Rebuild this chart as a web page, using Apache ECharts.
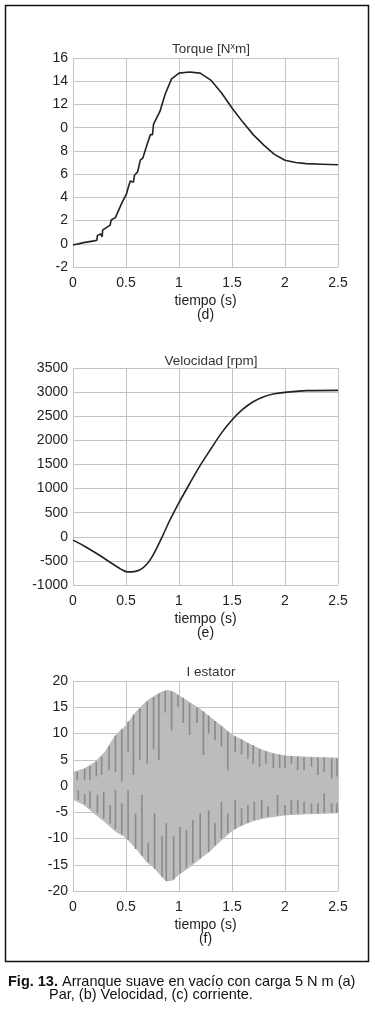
<!DOCTYPE html>
<html>
<head>
<meta charset="utf-8">
<script src="https://cdn.jsdelivr.net/npm/echarts@6/dist/echarts.min.js"></script>
<style>
  html, body { margin: 0; padding: 0; background: #fff; }
  #chart { width: 375px; height: 1014px; }
</style>
</head>
<body>
<div id="chart"></div>
<script>
// ---- datos ----
// (d) Torque
const torqueT = [0, 0.1, 0.2, 0.225, 0.23, 0.26, 0.275, 0.28, 0.3, 0.35, 0.36, 0.4, 0.46, 0.505, 0.52, 0.54, 0.57, 0.58, 0.61, 0.625, 0.635, 0.66, 0.7, 0.73, 0.75, 0.76, 0.82, 0.87, 0.93, 1.0, 1.1, 1.2, 1.3, 1.4, 1.5, 1.6, 1.7, 1.8, 1.9, 2.0, 2.1, 2.2, 2.35, 2.5]
const torqueV = [-0.1, 0.1, 0.25, 0.3, 0.7, 0.85, 0.6, 1.2, 1.3, 1.6, 2.05, 2.25, 3.5, 4.3, 4.8, 5.4, 5.3, 5.9, 6.2, 6.3, 7.2, 7.4, 8.6, 9.4, 9.4, 10.3, 11.4, 12.9, 14.2, 14.7, 14.8, 14.7, 14.1, 13.0, 11.7, 10.5, 9.4, 8.5, 7.7, 7.2, 7.0, 6.9, 6.85, 6.8]
const torqueTicks = ['-2', '0', '2', '4', '6', '8', '0', '12', '14', '16']

// (e) Velocidad
const speedT = [0, 0.1, 0.2, 0.3, 0.4, 0.45, 0.5, 0.55, 0.6, 0.65, 0.7, 0.75, 0.8, 0.85, 0.9, 0.95, 1.0, 1.1, 1.2, 1.3, 1.4, 1.5, 1.6, 1.7, 1.8, 1.9, 2.0, 2.2, 2.5]
const speedV = [-70, -185, -315, -455, -600, -670, -722, -728, -712, -660, -560, -400, -190, 40, 280, 500, 710, 1100, 1480, 1820, 2150, 2420, 2640, 2800, 2905, 2965, 2995, 3030, 3035]

// (f) I estator: envolvente y trazos oscuros [t, desde, hasta]
const currT = [0, 0.1, 0.2, 0.3, 0.4, 0.5, 0.6, 0.7, 0.76, 0.82, 0.88, 0.94, 1.0, 1.1, 1.2, 1.3, 1.4, 1.5, 1.6, 1.7, 1.8, 1.9, 2.0, 2.2, 2.5]
const currUpper = [2.6, 3.2, 4.4, 6.4, 9.6, 11.5, 14.2, 16.2, 17.0, 17.7, 18.2, 18.0, 17.2, 15.9, 14.6, 13.0, 11.4, 9.7, 8.7, 7.6, 6.7, 6.1, 5.7, 5.5, 5.3]
const currLower = [-2.5, -3.5, -5.2, -6.8, -8.6, -9.8, -12, -14.5, -15.4, -16.8, -18.1, -17.9, -16.8, -15.4, -13.8, -12.2, -10.3, -8.5, -7.4, -6.6, -6.1, -5.8, -5.5, -5.3, -5.1]
const upperStreaks = [
  [0.04, 2.7, 1.1], [0.11, 3.3, 1.1], [0.16, 3.8, 1.1], [0.22, 4.6, 1.8], [0.27, 5.6, 2.1],
  [0.34, 7.6, 3.0], [0.40, 9.6, 2.7], [0.46, 10.8, 0.8], [0.52, 12.3, 6.5], [0.57, 13.6, 2.1],
  [0.63, 14.8, 5.0], [0.70, 16.0, 4.3], [0.76, 16.9, 7.0], [0.81, 17.6, 4.9], [0.87, 18.1, 14.0],
  [0.93, 18.0, 10.6], [0.99, 17.3, 15.0], [1.04, 16.8, 12.0], [1.10, 15.8, 9.7], [1.17, 15.0, 12.0],
  [1.23, 14.2, 5.9], [1.28, 13.4, 10.0], [1.34, 12.4, 8.7], [1.40, 11.4, 7.5], [1.46, 10.4, 3.0],
  [1.53, 9.5, 6.5], [1.59, 8.9, 6.0], [1.65, 8.2, 5.2], [1.70, 7.8, 4.3], [1.76, 7.0, 3.7],
  [1.82, 6.6, 4.3], [1.89, 6.2, 3.4], [1.95, 6.0, 3.4], [2.00, 5.8, 3.4], [2.06, 5.7, 4.3],
  [2.12, 5.6, 3.0], [2.18, 5.5, 3.0], [2.25, 5.5, 3.7], [2.31, 5.4, 2.1], [2.37, 5.4, 2.7],
  [2.44, 5.3, 1.4], [2.49, 5.3, 1.8]
]
const lowerStreaks = [
  [0.05, -2.6, -0.8], [0.11, -3.4, -1.5], [0.16, -4.2, -1.0], [0.23, -5.2, -1.7], [0.29, -6.2, -1.1],
  [0.35, -7.2, -3.6], [0.40, -8.2, -0.8], [0.46, -9.2, -3.3], [0.52, -10.2, -0.8], [0.59, -12.0, -5.3],
  [0.65, -13.3, -1.7], [0.71, -14.5, -10.8], [0.77, -15.8, -5.2], [0.84, -17.3, -9.6], [0.88, -18.1, -7.1],
  [0.95, -17.8, -9.6], [1.01, -16.6, -7.8], [1.07, -15.6, -8.4], [1.13, -14.6, -6.5], [1.20, -13.8, -5.2],
  [1.28, -12.6, -4.6], [1.34, -11.3, -7.1], [1.40, -10.0, -3.0], [1.46, -9.0, -5.2], [1.53, -8.2, -2.6],
  [1.59, -7.6, -4.2], [1.65, -7.0, -3.6], [1.71, -6.5, -3.0], [1.78, -6.1, -2.6], [1.84, -5.9, -3.9],
  [1.93, -5.6, -1.7], [2.00, -5.5, -3.6], [2.06, -5.4, -2.6], [2.12, -5.3, -2.6], [2.18, -5.3, -3.0],
  [2.25, -5.2, -3.3], [2.31, -5.2, -3.3], [2.37, -5.1, -1.4], [2.44, -5.1, -3.3], [2.49, -5.1, -3.3]
]

const xTicks = ['0', '0.5', '1', '1.5', '2', '2.5']

// ---- estilos comunes ----
const FONT = "'Liberation Sans', Arial, sans-serif"
const textColor = '#222'
const gridColor = '#c4c4c4'

function pairs(xs, ys) {
  return xs.map((x, i) => [x, ys[i]])
}

function xAxisCfg(gridIndex, tag) {
  return {
    gridIndex,
    type: 'value',
    min: 0,
    max: 2.5,
    interval: 0.5,
    axisLine: { show: false },
    axisTick: { show: false },
    splitLine: { show: true, lineStyle: { color: gridColor, width: 1 } },
    axisLabel: {
      color: textColor,
      fontFamily: FONT,
      fontSize: 14,
      margin: 9,
      formatter: (v) => xTicks[Math.round(v / 0.5)]
    },
    name: 'tiempo (s)\n' + tag,
    nameLocation: 'middle',
    nameGap: 27,
    nameTextStyle: { color: textColor, fontFamily: FONT, fontSize: 14, lineHeight: 14 }
  }
}

function yAxisCfg(gridIndex, min, max, interval, formatter) {
  return {
    gridIndex,
    type: 'value',
    min,
    max,
    interval,
    axisLine: { show: false },
    axisTick: { show: false },
    splitLine: { show: true, lineStyle: { color: gridColor, width: 1 } },
    axisLabel: { color: textColor, fontFamily: FONT, fontSize: 14, margin: 5, formatter }
  }
}

// trazo vertical oscuro dentro de la envolvente
function streakItem(params, api) {
  const a = api.coord([api.value(0), api.value(1)])
  const b = api.coord([api.value(0), api.value(2)])
  return {
    type: 'rect',
    shape: { x: a[0] - 0.8, y: Math.min(a[1], b[1]), width: 1.6, height: Math.abs(b[1] - a[1]) },
    style: { fill: '#8a8a8a' }
  }
}

const chart = echarts.init(document.getElementById('chart'), null, { renderer: 'canvas' })

const titleStyle = { fontFamily: FONT, fontSize: 13.5, fontWeight: 'normal', color: '#333' }

const option = {
  backgroundColor: '#fff',
  animation: false,
  title: [
    {
      text: '{n|Torque [N}{s|x}{n|m]}',
      left: 206, top: 37, textAlign: 'center',
      textStyle: { fontWeight: 'normal', rich: {
        n: { fontFamily: FONT, fontSize: 13.5, fontWeight: 'normal', color: '#333' },
        s: { fontFamily: FONT, fontSize: 9, fontWeight: 'normal', color: '#333', verticalAlign: 'top', padding: [0, 0, 5, 0] }
      } }
    },
    { text: 'Velocidad [rpm]', left: 206, top: 349, textAlign: 'center', textStyle: titleStyle },
    { text: 'I estator', left: 206, top: 660, textAlign: 'center', textStyle: titleStyle }
  ],
  grid: [
    { left: 73, width: 265, top: 58, height: 209 },
    { left: 73, width: 265, top: 368, height: 217 },
    { left: 73, width: 265, top: 681, height: 210 }
  ],
  xAxis: [xAxisCfg(0, '(d)'), xAxisCfg(1, '(e)'), xAxisCfg(2, '(f)')],
  yAxis: [
    yAxisCfg(0, -2, 16, 2, (v) => torqueTicks[Math.round((v + 2) / 2)]),
    yAxisCfg(1, -1000, 3500, 500, (v) => String(v)),
    yAxisCfg(2, -20, 20, 5, (v) => String(v))
  ],
  series: [
    {
      type: 'line', xAxisIndex: 0, yAxisIndex: 0,
      data: pairs(torqueT, torqueV),
      showSymbol: false,
      lineStyle: { color: '#222', width: 1.6 }
    },
    {
      type: 'line', xAxisIndex: 1, yAxisIndex: 1,
      data: pairs(speedT, speedV),
      smooth: 0.3,
      showSymbol: false,
      lineStyle: { color: '#222', width: 1.6 }
    },
    {
      type: 'line', xAxisIndex: 2, yAxisIndex: 2,
      data: pairs(currT, currUpper),
      showSymbol: false,
      lineStyle: { color: '#bcbcbc', width: 1 },
      areaStyle: { color: '#bcbcbc', opacity: 1 }
    },
    {
      type: 'line', xAxisIndex: 2, yAxisIndex: 2,
      data: pairs(currT, currLower),
      showSymbol: false,
      lineStyle: { color: '#bcbcbc', width: 1 },
      areaStyle: { color: '#bcbcbc', opacity: 1 }
    },
    {
      type: 'custom', coordinateSystem: 'cartesian2d', xAxisIndex: 2, yAxisIndex: 2,
      z: 5,
      encode: { x: 0, y: [1, 2] },
      renderItem: streakItem,
      data: upperStreaks
    },
    {
      type: 'custom', coordinateSystem: 'cartesian2d', xAxisIndex: 2, yAxisIndex: 2,
      z: 5,
      encode: { x: 0, y: [1, 2] },
      renderItem: streakItem,
      data: lowerStreaks
    }
  ],
  graphic: [
    {
      type: 'rect',
      shape: { x: 5.5, y: 5.5, width: 363, height: 956 },
      style: { fill: null, stroke: '#111', lineWidth: 1.5 },
      silent: true
    },
    {
      type: 'text', left: 8, top: 974,
      style: {
        text: '{b|Fig. 13.} Arranque suave en vacío con carga 5 N m (a)',
        font: '14.5px ' + FONT, fill: '#111',
        rich: { b: { fontWeight: 'bold', fontFamily: FONT, fontSize: 14.5, fill: '#111' } }
      }
    },
    {
      type: 'text', left: 49, top: 987,
      style: { text: 'Par, (b) Velocidad, (c) corriente.', font: '14.5px ' + FONT, fill: '#111' }
    }
  ]
}

chart.setOption(option)
</script>
</body>
</html>
